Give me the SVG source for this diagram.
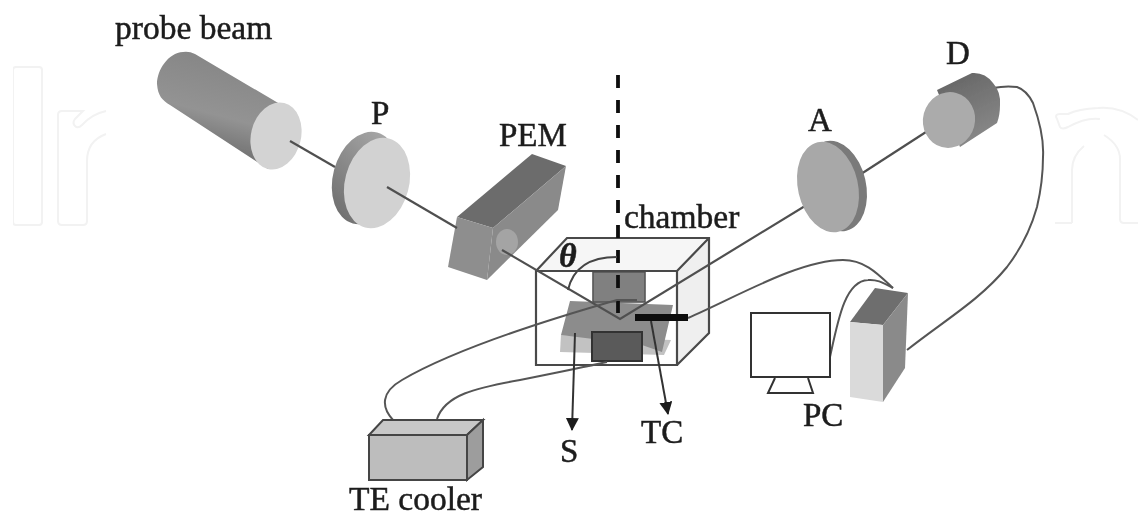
<svg xmlns="http://www.w3.org/2000/svg" width="1138" height="517" viewBox="0 0 1138 517">
<style>
text{font-family:"Liberation Serif","Times New Roman",serif;fill:#1c1c1c;stroke:#1c1c1c;stroke-width:.5;font-size:33px}
.ln{fill:none;stroke:#505050;stroke-width:2.2}
.wire{fill:none;stroke:#555;stroke-width:2}
.box{fill:none;stroke:#4a4a4a;stroke-width:2.2}
.wm{fill:none;stroke:#f2f2f2;stroke-width:2}
</style>
<defs>
<filter id="soft" x="0" y="0" width="100%" height="100%"><feGaussianBlur stdDeviation="0.55"/></filter>
<linearGradient id="cyl" x1="0.62" y1="0.05" x2="0.35" y2="0.95"><stop offset="0" stop-color="#858585"/><stop offset=".55" stop-color="#939393"/><stop offset="1" stop-color="#646464"/></linearGradient>
<linearGradient id="rim" x1="0.7" y1="0" x2="0.3" y2="1"><stop offset="0" stop-color="#a8a8a8"/><stop offset="1" stop-color="#6f6f6f"/></linearGradient>
<linearGradient id="det" x1="0.3" y1="0" x2="0.7" y2="1"><stop offset="0" stop-color="#666"/><stop offset="1" stop-color="#8c8c8c"/></linearGradient>
<marker id="ah" markerWidth="14" markerHeight="14" refX="12" refY="6.5" orient="auto" markerUnits="userSpaceOnUse"><path d="M0 0L13 6.5L0 13Z" fill="#1c1c1c"/></marker>
</defs>
<g filter="url(#soft)">
<g id="watermark">
<rect class="wm" x="13" y="67" width="29" height="158" rx="3"/>
<path class="wm" d="M106 111q-14 3-24 14q-4 4-7 1t0-7l8-8H62q-4 0-4 4v106q0 4 4 4h21q4 0 4-4v-60q0-20 19-27"/>
<path class="wm" d="M1138 120q-18-14-40-12q-20 1-30 6l-8 0q-6 0-3 5l3 8q2 3 8 0q18-10 32-8M1072 223V170q0-14 12-24M1138 223h-14q-4 0-4-4v-60q0-14-16-24M1055 223h17"/>
</g>
<g id="probe-beam">
<path d="M183 52C168 53 157 70 157 84C158 96 162 100 170 105L268 169L290 110L195 54Q189 51 183 52Z" fill="url(#cyl)"/>
<ellipse cx="276" cy="136" rx="25" ry="34" transform="rotate(14 276 136)" fill="#d3d3d3"/>
</g>
<g id="polarizer">
<ellipse cx="365" cy="178" rx="32" ry="47" transform="rotate(15 365 178)" fill="url(#rim)"/>
<ellipse cx="377" cy="183" rx="32" ry="46" transform="rotate(15 377 183)" fill="#d2d2d2"/>
</g>
<g id="pem">
<path d="M457 217L532 154L566 166L493 228Z" fill="#6c6c6c"/>
<path d="M493 228L566 166L558 210L487 280Z" fill="#8a8a8a"/>
<path d="M457 217L493 228L487 280L448 267Z" fill="#8e8e8e"/>
<ellipse cx="507" cy="242" rx="11" ry="13" fill="#a4a4a4"/>
</g>
<g id="chamber">
<path d="M677 271L709 240V333L677 365Z" fill="#efefef"/>
<path d="M536 271L567 238H709L677 271Z" fill="#f6f6f6"/>
<path d="M561 335L560 352L664 355L671 340Z" fill="#c2c2c2"/>
<path d="M570 301L673 305L662 352L642 345L561 335Z" fill="#8c8c8c"/>
<rect x="593" y="272" width="52" height="30" fill="#808080" stroke="#555" stroke-width="1.6"/>
<rect x="592" y="332" width="50" height="29" fill="#5a5a5a" stroke="#333" stroke-width="2"/>
<path class="box" d="M536 271H677V365H536ZM536 271L567 238H709V333L677 365M677 271L709 238"/>
</g>
<g id="connectors">
<path class="ln" d="M290 141L335 167"/>
<path class="ln" d="M387 187L457 228"/>
<path class="ln" d="M502 250L620 319L823 195"/>
<path class="ln" d="M861 174L943 121"/>
<path d="M618 75V320" fill="none" stroke="#111" stroke-width="3.8" stroke-dasharray="13 12"/>
<path d="M568 290C573 268 590 257 617 257" fill="none" stroke="#444" stroke-width="2"/>
<path class="wire" d="M393 420C381 407 381 392 402 380C450 352 540 322 617 300H637"/>
<path class="wire" d="M437 419C445 395 475 388 520 380C550 374 580 368 607 362"/>
<path class="wire" d="M688 318C740 295 800 260 843 260C865 260 878 274 893 288"/>
<path class="wire" d="M830 357C838 320 845 281 868 280C878 279 885 284 893 288"/>
<path class="wire" d="M993 88C1003 86 1010 86 1017 87C1026 90 1030 97 1033 103C1041 125 1044 140 1043 157C1043 175 1041 190 1037 207C1030 232 1020 250 1007 267C980 300 945 320 907 350"/>
<path d="M575 333L572 430" fill="none" stroke="#333" stroke-width="2" marker-end="url(#ah)"/>
<path d="M651 321L668 414" fill="none" stroke="#333" stroke-width="2" marker-end="url(#ah)"/>
</g>
<g id="thermocouple"><rect x="635" y="314" width="53" height="7" fill="#0a0a0a"/></g>
<g id="analyzer">
<ellipse cx="836" cy="186" rx="30" ry="46" transform="rotate(-13 836 186)" fill="#7a7a7a"/>
<ellipse cx="828" cy="187" rx="30" ry="46" transform="rotate(-13 828 187)" fill="#a8a8a8"/>
</g>
<g id="detector">
<path d="M937 90L972 73Q985 72 993 83Q1001 92 1000 105Q1000 115 997 123L960 147Z" fill="url(#det)"/>
<ellipse cx="949" cy="120" rx="26" ry="28" transform="rotate(15 949 120)" fill="#ababab"/>
</g>
<g id="pc-tower">
<path d="M850 322L875 288L908 293L883 325Z" fill="#6e6e6e"/>
<path d="M883 325L908 293L905 368L883 402Z" fill="#8a8a8a"/>
<path d="M850 322L883 325V402L850 397Z" fill="#dadada"/>
</g>
<g id="monitor">
<rect x="751" y="313" width="79" height="64" fill="#fff" stroke="#333" stroke-width="2"/>
<path d="M775 378L768 393H813L808 378" fill="#fff" stroke="#333" stroke-width="2"/>
</g>
<g id="te-cooler">
<path d="M369 435L383 420H483L467 435Z" fill="#c8c8c8" stroke="#444" stroke-width="2"/>
<path d="M467 435L483 420V467L467 480Z" fill="#9d9d9d" stroke="#444" stroke-width="2"/>
<rect x="369" y="435" width="98" height="45" fill="#bdbdbd" stroke="#444" stroke-width="2"/>
</g>
<g id="labels">
<text x="115" y="39" style="font-size:33.5px">probe beam</text>
<text x="371" y="124">P</text>
<text x="499" y="146">PEM</text>
<text x="624" y="228" style="font-size:33.5px">chamber</text>
<text x="559" y="267" font-style="italic" font-weight="bold" style="font-size:34px">θ</text>
<text x="808" y="131">A</text>
<text x="946" y="64">D</text>
<text x="803" y="426">PC</text>
<text x="560" y="462">S</text>
<text x="641" y="443">TC</text>
<text x="349" y="510" style="font-size:33.5px">TE cooler</text>
</g>
</g>
</svg>
